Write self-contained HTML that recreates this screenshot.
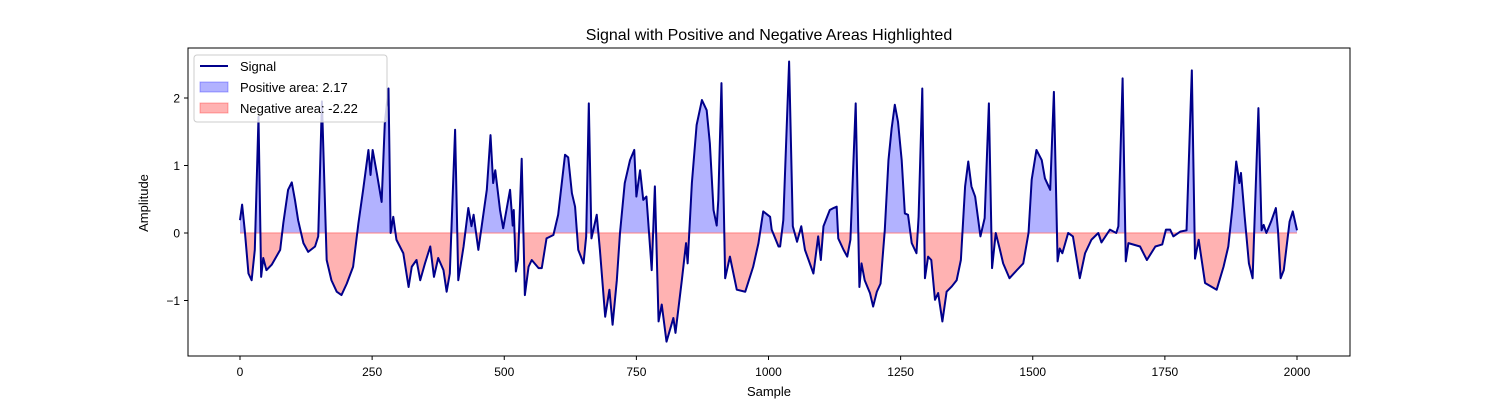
<!DOCTYPE html>
<html><head><meta charset="utf-8">
<style>
body{margin:0;background:#fff;}
svg{display:block;font-family:"Liberation Sans","DejaVu Sans",sans-serif;}
</style></head>
<body>
<svg id="chart" width="1500" height="400" viewBox="0 0 1500 400">
<defs>
<clipPath id="clipPos"><rect x="188" y="0" width="1162" height="233"/></clipPath>
<clipPath id="clipNeg"><rect x="188" y="233" width="1162" height="200"/></clipPath>
</defs>
<rect x="0" y="0" width="1500" height="400" fill="#fff"/>
<text x="769" y="40" text-anchor="middle" font-size="16" fill="#000">Signal with Positive and Negative Areas Highlighted</text>
<g id="areas"></g>
<g id="lineg"></g>
<rect x="188" y="48" width="1162" height="308" fill="none" stroke="#000" stroke-width="1"/>
<g id="xticks"></g>
<g id="yticks"></g>
<text x="769" y="396" text-anchor="middle" font-size="13">Sample</text>
<text x="148" y="203" text-anchor="middle" font-size="13" transform="rotate(-90 148 203)">Amplitude</text>
<g>
<rect x="194" y="55" width="193" height="67" rx="3" fill="#fff" fill-opacity="0.8" stroke="#ccc"/>
<g>
<line x1="200" y1="66" x2="228" y2="66" stroke="#00008b" stroke-width="2"/>
<text x="240" y="71" font-size="13">Signal</text></g>
<g>
<rect x="200" y="82" width="28" height="10" fill="#0000ff" fill-opacity="0.3" stroke="#0000ff" stroke-opacity="0.3"/>
<text x="240" y="92" font-size="13">Positive area: 2.17</text></g>
<g>
<rect x="200" y="103" width="28" height="10" fill="#ff0000" fill-opacity="0.3" stroke="#ff0000" stroke-opacity="0.3"/>
<text x="240" y="113" font-size="13">Negative area: -2.22</text></g>
</g>
</svg>
<script>
const samples=[0,4,9,16,22,28,35,40,44,50,60,76,82,91,98,104,110,120,129,142,148,155,164,173,183,192,202,214,224,233,243,247,251,259,268,274,281,285,290,296,309,319,325,334,341,350,360,367,375,385,391,397,407,413,423,432,438,442,451,467,474,479,483,492,498,511,516,518,522,526,533,539,546,552,565,571,580,593,602,615,621,628,634,640,650,655,660,665,675,681,691,699,705,713,719,728,738,746,750,757,763,769,779,785,792,798,807,820,824,836,844,847,855,864,874,883,889,896,902,905,911,918,927,940,956,971,981,990,1003,1006,1019,1022,1028,1039,1046,1054,1062,1069,1085,1094,1099,1104,1116,1123,1129,1132,1142,1149,1155,1165,1172,1176,1182,1192,1198,1205,1212,1220,1227,1233,1239,1245,1252,1258,1264,1271,1280,1284,1291,1296,1302,1308,1315,1321,1329,1337,1347,1356,1364,1372,1378,1384,1391,1401,1409,1417,1423,1430,1438,1444,1456,1470,1482,1492,1498,1507,1517,1523,1533,1540,1547,1551,1556,1567,1576,1589,1599,1611,1624,1630,1646,1658,1662,1670,1676,1681,1703,1716,1732,1745,1752,1760,1766,1779,1791,1801,1807,1814,1826,1848,1861,1870,1878,1885,1891,1894,1901,1909,1916,1927,1933,1937,1942,1951,1960,1964,1969,1975,1986,1992,2000];
const values=[0.19,0.42,0.04,-0.6,-0.7,-0.25,1.72,-0.65,-0.37,-0.55,-0.47,-0.25,0.15,0.64,0.75,0.49,0.19,-0.15,-0.28,-0.2,-0.05,1.95,-0.4,-0.7,-0.87,-0.92,-0.75,-0.5,0.14,0.64,1.23,0.86,1.23,0.88,0.46,1.63,2.14,0.0,0.24,-0.1,-0.3,-0.8,-0.5,-0.4,-0.7,-0.45,-0.2,-0.65,-0.37,-0.55,-0.87,-0.6,1.53,-0.7,-0.2,0.37,0.1,0.27,-0.25,0.64,1.45,0.74,0.93,0.34,0.07,0.64,0.11,0.34,-0.57,-0.4,1.1,-0.92,-0.5,-0.4,-0.52,-0.52,-0.08,-0.03,0.27,1.16,1.12,0.59,0.39,-0.25,-0.45,-0.05,1.92,-0.08,0.27,-0.25,-1.24,-0.84,-1.36,-0.7,0.0,0.74,1.08,1.23,0.54,0.93,0.49,0.54,-0.55,0.69,-1.31,-1.06,-1.61,-1.26,-1.48,-0.7,-0.15,-0.45,0.74,1.6,1.97,1.82,1.33,0.34,0.11,0.49,2.22,-0.67,-0.35,-0.84,-0.87,-0.5,-0.15,0.32,0.24,0.05,-0.2,-0.2,0.19,2.54,0.1,-0.13,0.1,-0.25,-0.6,-0.05,-0.4,0.1,0.34,0.37,0.39,-0.08,-0.25,-0.35,-0.1,1.92,-0.8,-0.45,-0.7,-0.89,-1.09,-0.87,-0.75,0.04,1.08,1.55,1.9,1.65,1.08,0.29,0.27,-0.15,-0.3,0.24,2.14,-0.67,-0.35,-0.4,-0.99,-0.89,-1.31,-0.87,-0.79,-0.7,-0.4,0.69,1.06,0.69,0.54,-0.05,0.22,1.92,-0.52,0.0,-0.25,-0.45,-0.67,-0.55,-0.45,0.0,0.79,1.23,1.08,0.81,0.64,2.09,-0.42,-0.23,-0.3,0.0,-0.05,-0.67,-0.3,-0.1,0.0,-0.14,0.05,0.0,0.1,2.29,-0.42,-0.15,-0.2,-0.4,-0.2,-0.17,0.05,0.05,-0.05,0.02,0.04,2.41,-0.38,-0.1,-0.74,-0.84,-0.5,-0.2,0.39,1.06,0.74,0.89,0.24,-0.45,-0.67,1.85,0.04,0.12,0.0,0.17,0.37,0.04,-0.67,-0.55,0.17,0.32,0.04];
const xTickValues=[0,250,500,750,1000,1250,1500,1750,2000];
const yTickValues=[-1,0,1,2];
const NS='http://www.w3.org/2000/svg';
function xs(v){return 240+v*(1297-240)/2000;}
function ys(v){return 233-v*67.5;}
const pts=samples.map((s,i)=>xs(s).toFixed(2)+','+ys(values[i]).toFixed(2));
const areaD='M'+xs(samples[0])+','+ys(0)+' L'+pts.join(' L')+' L'+xs(samples[samples.length-1])+','+ys(0)+' Z';
const areas=document.getElementById('areas');
const pos=document.createElementNS(NS,'path');
pos.setAttribute('d',areaD);pos.setAttribute('fill','#0000ff');pos.setAttribute('fill-opacity','0.3');pos.setAttribute('clip-path','url(#clipPos)');


areas.appendChild(pos);
const neg=document.createElementNS(NS,'path');
neg.setAttribute('d',areaD);neg.setAttribute('fill','#ff0000');neg.setAttribute('fill-opacity','0.3');neg.setAttribute('clip-path','url(#clipNeg)');


areas.appendChild(neg);
const zl=document.createElementNS(NS,'line');
zl.setAttribute('x1',xs(0));zl.setAttribute('x2',xs(2000));zl.setAttribute('y1',ys(0));zl.setAttribute('y2',ys(0));zl.setAttribute('stroke','#ff8080');zl.setAttribute('stroke-width','1');


areas.appendChild(zl);
const line=document.createElementNS(NS,'polyline');
line.setAttribute('points',pts.join(' '));line.setAttribute('fill','none');line.setAttribute('stroke','#00008b');line.setAttribute('stroke-width','2');line.setAttribute('stroke-linejoin','round');


document.getElementById('lineg').appendChild(line);
const xg=document.getElementById('xticks');
xTickValues.forEach(v=>{
 const t=document.createElementNS(NS,'line');
 t.setAttribute('x1',xs(v));t.setAttribute('x2',xs(v));t.setAttribute('y1',356);t.setAttribute('y2',360);t.setAttribute('stroke','#000');
 
 
 xg.appendChild(t);
 const l=document.createElementNS(NS,'text');
 l.setAttribute('x',xs(v));l.setAttribute('y',376);l.setAttribute('text-anchor','middle');l.setAttribute('font-size','12');l.textContent=v;
 
 
 xg.appendChild(l);
});
const yg=document.getElementById('yticks');
yTickValues.forEach(v=>{
 const t=document.createElementNS(NS,'line');
 t.setAttribute('x1',184);t.setAttribute('x2',188);t.setAttribute('y1',ys(v));t.setAttribute('y2',ys(v));t.setAttribute('stroke','#000');
 
 
 yg.appendChild(t);
 const l=document.createElementNS(NS,'text');
 l.setAttribute('x',180);l.setAttribute('y',ys(v)+4.5);l.setAttribute('text-anchor','end');l.setAttribute('font-size','12');l.textContent=v<0?'\u2212'+Math.abs(v):v;
 
 
 yg.appendChild(l);
});
</script>
</body></html>
